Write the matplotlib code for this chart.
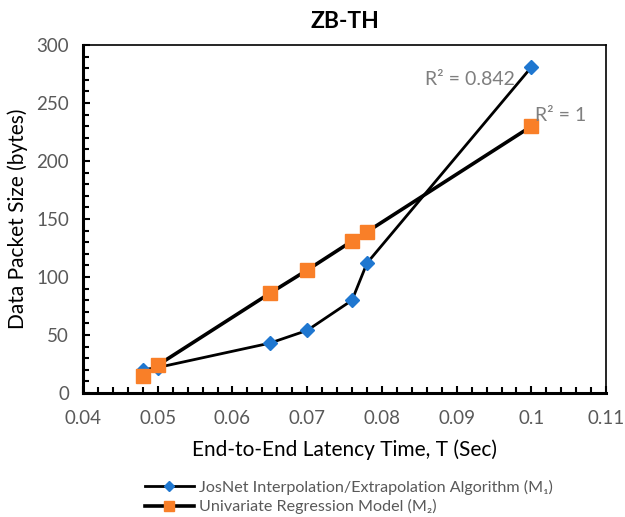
import matplotlib
matplotlib.use("Agg")
import matplotlib.pyplot as plt
from matplotlib.ticker import MultipleLocator, FormatStrFormatter

plt.rcParams['font.family'] = ['Lato', 'DejaVu Sans']

# data
latency_m1 = [0.048, 0.050, 0.065, 0.070, 0.076, 0.078, 0.100]
size_m1 = [20, 22, 43, 54, 80, 112, 281]

latency_m2 = [0.048, 0.050, 0.065, 0.070, 0.076, 0.078, 0.100]
size_m2 = [15, 24, 86, 106, 131, 139, 230]

label_m1 = "JosNet Interpolation/Extrapolation Algorithm (M\u2081)"
label_m2 = "Univariate Regression Model (M\u2082)"
r2_m1 = "R\u00b2 = 0.842"
r2_m2 = "R\u00b2 = 1"

grey = "#595959"

fig = plt.figure(figsize=(6.25, 5.17), dpi=100)
ax = fig.add_axes([0.1328, 0.2398, 0.837, 0.673])

ax.plot(latency_m1, size_m1, color="black", lw=2.0, marker="D", ms=7,
        mfc="#1f77d0", mec="#1f77d0", label=label_m1, zorder=3)
ax.plot(latency_m2, size_m2, color="black", lw=2.6, marker="s", ms=9.5,
        mfc="#f97f28", mec="#f97f28", label=label_m2, zorder=3)

ax.set_xlim(0.04, 0.11)
ax.set_ylim(0, 300)
ax.xaxis.set_major_locator(MultipleLocator(0.01))
ax.xaxis.set_minor_locator(MultipleLocator(0.002))
ax.yaxis.set_major_locator(MultipleLocator(50))
ax.yaxis.set_minor_locator(MultipleLocator(10))
ax.xaxis.set_major_formatter(FormatStrFormatter('%g'))

ax.tick_params(which="both", direction="in", top=False, right=False,
               colors="black", labelcolor=grey, labelsize=13.5, width=1.5)
ax.tick_params(which="major", length=5)
ax.tick_params(axis="x", which="major", pad=12)
ax.tick_params(axis="y", which="major", pad=10)
ax.tick_params(which="minor", length=4)

for side in ["left", "bottom"]:
    ax.spines[side].set_linewidth(2.2)
for side in ["top", "right"]:
    ax.spines[side].set_linewidth(1.2)

ax.set_title("ZB-TH", fontsize=16.5, fontweight="bold", pad=12)
ax.set_xlabel("End-to-End Latency Time, T (Sec)", fontsize=15, labelpad=9)
ax.set_ylabel("Data Packet Size (bytes)", fontsize=15, labelpad=6)

ax.text(0.0858, 270, r2_m1, color="#7f7f7f", fontsize=14, ha="left", va="center")
ax.text(0.1005, 239, r2_m2, color="#7f7f7f", fontsize=14, ha="left", va="center")

leg = fig.legend(loc="upper left", bbox_to_anchor=(0.222, 0.085), frameon=False,
                 fontsize=11.6, handlelength=3.0, labelspacing=0.3, handletextpad=0.35,
                 borderaxespad=0, markerscale=0.75)
for t in leg.get_texts():
    t.set_color(grey)

fig.savefig("out.png", dpi=100)
